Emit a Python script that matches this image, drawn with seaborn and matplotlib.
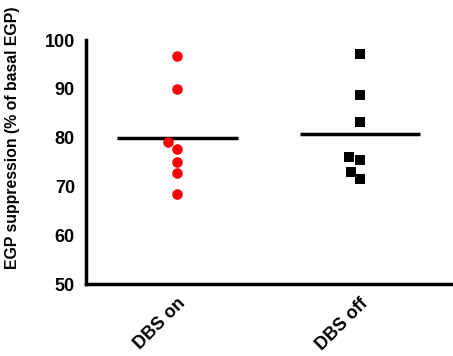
import numpy as np
import pandas as pd
import seaborn as sns
import matplotlib
matplotlib.use("Agg")
import matplotlib.pyplot as plt

groups = ["DBS on", "DBS off"]
dbs_on = [96.7, 90.0, 79.0, 77.7, 75.0, 72.8, 68.4]
dbs_off = [97.1, 88.7, 83.3, 76.0, 75.5, 72.9, 71.5]
colors = ["#ff0000", "#000000"]
markers = ["o", "s"]

df = pd.DataFrame({
    "group": [groups[0]] * len(dbs_on) + [groups[1]] * len(dbs_off),
    "egp": dbs_on + dbs_off,
})

sns.set_style("white")
plt.rcParams["font.family"] = ["Liberation Sans", "DejaVu Sans"]
plt.rcParams["font.weight"] = "bold"
plt.rcParams["text.color"] = "black"
plt.rcParams["axes.labelcolor"] = "black"
plt.rcParams["xtick.color"] = "black"
plt.rcParams["ytick.color"] = "black"

fig = plt.figure(figsize=(4.53, 3.56), dpi=100)
ax = fig.add_axes([0.19, 0.2022, 0.8056, 0.6854])

for i, g in enumerate(groups):
    sub = df[df["group"] == g]
    sns.swarmplot(data=sub, x="group", y="egp", order=groups, color=colors[i],
                  marker=markers[i], size=7.6, linewidth=0, ax=ax)
    m = sub["egp"].mean()
    ax.hlines(m, i - 0.33, i + 0.33, color="black", lw=2.5, zorder=1)

ax.set_xlim(-0.5, 1.5)
ax.set_ylim(50, 100)
ax.set_yticks(range(50, 101, 10))
ax.set_xlabel("")
ax.set_ylabel("EGP suppression (% of basal EGP)", fontsize=11.4, fontweight="bold")
ax.yaxis.set_label_coords(-0.18, 0.6)
ax.tick_params(axis="both", direction="out", length=6, width=2.5, labelsize=13, pad=2)
ax.tick_params(axis="y", length=7, pad=1)
plt.setp(ax.get_xticklabels(), rotation=45, ha="right", rotation_mode="anchor", fontweight="bold")
plt.setp(ax.get_yticklabels(), fontweight="bold")
for s in ["top", "right"]:
    ax.spines[s].set_visible(False)
for s in ["left", "bottom"]:
    ax.spines[s].set_linewidth(2.5)
    ax.spines[s].set_color("black")

fig.savefig("out.png", dpi=100)
